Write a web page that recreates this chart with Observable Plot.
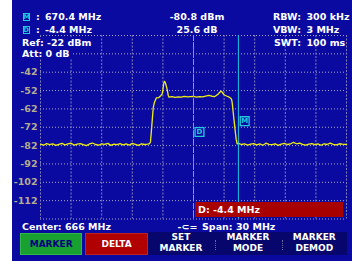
<!DOCTYPE html>
<html>
<head>
<meta charset="utf-8">
<script src="https://cdn.jsdelivr.net/npm/d3@7"></script>
<script src="https://cdn.jsdelivr.net/npm/@observablehq/plot@0.6"></script>
<style>
  body { margin:0; background:#ffffff; width:352px; height:261px; overflow:hidden; position:relative; }
  #screen { position:absolute; left:12px; top:0; width:340px; height:261px; background:#0a0aa0; }
  #chart { position:absolute; left:0; top:0; }
  .t { position:absolute; font-family:"DejaVu Sans", sans-serif; font-weight:bold; font-size:9.5px; line-height:11px; color:#ffffff; white-space:nowrap; }
  .bg { background:#0a0aa0; }
  .icon { position:absolute; box-sizing:border-box; width:7px; height:8px; border:1px solid #20c8e0; color:#20c8e0; font-family:"DejaVu Sans", sans-serif; font-weight:bold; font-size:6.5px; line-height:6px; text-align:center; }
  .btn { position:absolute; display:flex; align-items:center; justify-content:center; font-family:"DejaVu Sans", sans-serif; font-weight:bold; font-size:9px; box-sizing:border-box; }
  .soft { position:absolute; text-align:center; font-family:"DejaVu Sans", sans-serif; font-weight:bold; font-size:9px; line-height:11px; color:#ffffff; width:70px; }
  .sep { position:absolute; width:0; height:10px; border-left:1px dotted #6a6aa0; }
</style>
</head>
<body>
<div id="screen"></div>
<div id="chart"></div>
<div id="overlay"></div>
<script>
// ---- data ----
const centerMHz = 666;
const spanMHz = 30;
const refLevel = -22;
const xTicks = [651, 654, 657, 660, 663, 666, 669, 672, 675, 678, 681];
const yGrid = [-22, -32, -42, -52, -62, -72, -82, -92, -102, -112, -122];
const yTickLabels = [-42, -52, -62, -72, -82, -92, -102, -112];

const traceFreq = [
  651.0, 651.3, 651.6, 651.9, 652.2, 652.5, 652.8, 653.1, 653.4, 653.7,
  654.0, 654.3, 654.6, 654.9, 655.2, 655.5, 655.8, 656.1, 656.4, 656.7,
  657.0, 657.3, 657.6, 657.9, 658.2, 658.5, 658.8, 659.1, 659.4, 659.7,
  660.0, 660.3, 660.6, 660.9, 661.2, 661.5,
  661.70, 661.78, 661.85, 661.95, 662.05, 662.15, 662.35, 662.60, 662.76, 662.93,
  663.00, 663.09, 663.17, 663.25, 663.33, 663.42, 663.52, 663.60,
  663.9, 664.2, 664.5, 664.8, 665.1, 665.4, 665.7, 666.0, 666.3, 666.6,
  666.9, 667.2, 667.5, 667.8, 668.1, 668.4, 668.6, 668.72, 668.85, 669.0,
  669.14, 669.3, 669.5, 669.65, 669.73, 669.79, 669.87, 669.95, 670.03, 670.10,
  670.18, 670.28,
  670.4, 670.7, 671.0, 671.3, 671.6, 671.9, 672.2, 672.5, 672.8, 673.1,
  673.4, 673.7, 674.0, 674.3, 674.6, 674.9, 675.2, 675.5, 675.8, 676.1,
  676.4, 676.7, 677.0, 677.3, 677.6, 677.9, 678.2, 678.5, 678.8, 679.1,
  679.4, 679.7, 680.0, 680.3, 680.6, 681.0
];
const traceLevel = [
  -81.2, -81.8, -80.9, -81.5, -81.0, -81.9, -81.3, -80.8, -81.6, -81.1,
  -80.7, -81.7, -81.2, -80.9, -81.5, -82.0, -81.1, -80.6, -81.4, -81.8,
  -81.0, -81.3, -80.8, -81.9, -81.2, -81.5, -80.9, -81.6, -81.1, -81.7,
  -80.8, -81.3, -81.9, -81.0, -81.4, -81.2,
  -80.9, -80.0, -75.5, -68.5, -61.5, -58.8, -56.0, -55.8, -55.0, -53.8,
  -51.5, -47.8, -47.0, -47.9, -49.5, -51.5, -54.5, -55.6,
  -55.3, -55.7, -55.4, -55.6, -55.2, -55.5, -55.3, -55.2, -55.6, -55.3,
  -55.5, -55.0, -54.6, -55.1, -55.3, -54.0, -52.8, -52.3, -53.2, -54.3,
  -54.7, -55.1, -55.6, -56.2, -56.8, -58.5, -62.5, -67.0, -71.0, -74.5,
  -78.5, -81.0,
  -80.8, -81.4, -81.0, -81.7, -81.2, -80.9, -81.6, -81.1, -81.8, -80.7,
  -81.3, -81.5, -81.0, -81.9, -81.2, -80.8, -81.4, -81.1, -80.2, -81.0,
  -80.6, -81.3, -81.7, -81.2, -80.9, -81.5, -81.1, -81.8, -81.0, -81.4,
  -80.7, -81.3, -81.6, -81.0, -81.2, -81.4
];

const markerNames = ["D", "M"];
const markerFreqs = [666.0, 670.4];
const markerLevels = [-55.2, -80.8];

const headerLeft = [["M", "670.4 MHz"], ["D", "-4.4 MHz"]];
const headerMid = ["-80.8 dBm", "25.6 dB"];
const headerRight = [["RBW:", "300 kHz"], ["VBW:", "3 MHz"], ["SWT:", "100 ms"]];
const refText = "Ref: -22 dBm";
const attText = "Att: 0 dB";
const centerText = "Center: 666 MHz";
const spanText = "Span: 30 MHz";
const deltaText = "D: -4.4 MHz";
const softkeys = [["SET", "MARKER"], ["MARKER", "MODE"], ["MARKER", "DEMOD"]];

// ---- chart ----
const trace = traceFreq.map((f, i) => ({f, v: traceLevel[i]}));
const markers = markerNames.map((n, i) => ({n, f: markerFreqs[i], v: markerLevels[i]}));
const cyan = "#20c8e0";

const chart = Plot.plot({
  width: 352,
  height: 261,
  marginLeft: 40,
  marginRight: 6,
  marginTop: 35,
  marginBottom: 42.5,
  x: {domain: [centerMHz - spanMHz / 2, centerMHz + spanMHz / 2], axis: null, label: null},
  y: {domain: [refLevel - 100, refLevel], axis: null, label: null},
  style: {background: "transparent", overflow: "visible"},
  marks: [
    Plot.gridY(yGrid, {stroke: "#a8a8c0", strokeOpacity: 1, strokeDasharray: "1,2"}),
    Plot.gridX(xTicks, {stroke: "#8080b8", strokeOpacity: 1, strokeDasharray: "2,1.5"}),
    Plot.axisY(yTickLabels, {tickSize: 0, tickPadding: 3, fontSize: 9.5, fontWeight: "bold", label: null,
      fontFamily: "DejaVu Sans", fill: "#b4ac8c", tickFormat: d => String(d)}),
    Plot.line(trace, {x: "f", y: "v", stroke: "#eeee10", strokeWidth: 1.3}),
    Plot.ruleX(markers.filter(d => d.n === "D"), {x: "f", stroke: cyan, strokeWidth: 1, strokeDasharray: "6,2"}),
    Plot.ruleX(markers.filter(d => d.n === "M"), {x: "f", stroke: cyan, strokeWidth: 1}),
    Plot.dot(markers.filter(d => d.n === "D"), {x: "f", y: "v", dx: 6, dy: 35.6, symbol: "square", r: 5, stroke: cyan, strokeWidth: 1.3, fill: "#0a0aa0"}),
    Plot.text(markers.filter(d => d.n === "D"), {x: "f", y: "v", dx: 6, dy: 35.6, text: "n", fill: cyan, fontSize: 7, fontWeight: "bold", fontFamily: "DejaVu Sans"}),
    Plot.dot(markers.filter(d => d.n === "M"), {x: "f", y: "v", dx: 6.3, dy: -22.2, symbol: "square", r: 5, stroke: cyan, strokeWidth: 1.3, fill: "#0a0aa0"}),
    Plot.text(markers.filter(d => d.n === "M"), {x: "f", y: "v", dx: 6.3, dy: -22.2, text: "n", fill: cyan, fontSize: 7, fontWeight: "bold", fontFamily: "DejaVu Sans"})
  ]
});
document.getElementById("chart").appendChild(chart);

// ---- screen texts ----
const ov = document.getElementById("overlay");
function add(cls, html, style) {
  const el = document.createElement("div");
  el.className = cls;
  el.innerHTML = html;
  Object.assign(el.style, style);
  ov.appendChild(el);
  return el;
}
const rowTops = [10.7, 24.0, 37.0, 48.4];
headerLeft.forEach((r, i) => {
  add("icon", r[0], {left: "22.5px", top: (rowTops[i] + 2) + "px"});
  add("t", ":", {left: "36px", top: rowTops[i] + "px"});
  add("t", r[1], {left: "45px", top: rowTops[i] + "px"});
});
add("t bg", refText, {left: "22px", top: rowTops[2] + "px", paddingRight: "4px"});
add("t bg", attText, {left: "22px", top: rowTops[3] + "px", paddingRight: "3px"});
headerMid.forEach((s, i) => {
  add("t", s, {left: "157px", width: "80px", textAlign: "center", top: rowTops[i] + "px"});
});
headerRight.forEach((r, i) => {
  add("t", r[0], {left: "250px", width: "51px", textAlign: "right", top: rowTops[i] + "px"});
  add("t", r[1], {left: "306.5px", top: rowTops[i] + "px"});
});
add("t", centerText, {left: "22px", top: "220.5px"});
add("t", "-⊂=", {left: "177.5px", top: "220.5px"});
add("t", spanText, {left: "202px", top: "220.5px"});

// red delta readout box
add("t", deltaText, {left: "194.5px", top: "201.7px", width: "148px", height: "15px", lineHeight: "15px",
  background: "#a80000", paddingLeft: "3.5px", boxSizing: "border-box"});

// buttons
add("btn", "MARKER", {left: "20px", top: "232.7px", width: "62.3px", height: "22.3px", background: "#18a030", color: "#000080", border: "1px solid #30b848"});
add("btn", "DELTA", {left: "85px", top: "232.7px", width: "63.3px", height: "22.3px", background: "#b00000", color: "#ffffff", border: "1px solid #c02020"});
add("btn", "", {left: "148.3px", top: "231.7px", width: "198.4px", height: "23.3px", background: "#06066c"});
const softCenters = [181, 248, 314.3];
softkeys.forEach((k, i) => {
  add("soft", k[0] + "<br>" + k[1], {left: (softCenters[i] - 35) + "px", top: "232.3px"});
});
[215, 282].forEach(x => add("sep", "", {left: x + "px", top: "240px"}));
</script>
</body>
</html>
